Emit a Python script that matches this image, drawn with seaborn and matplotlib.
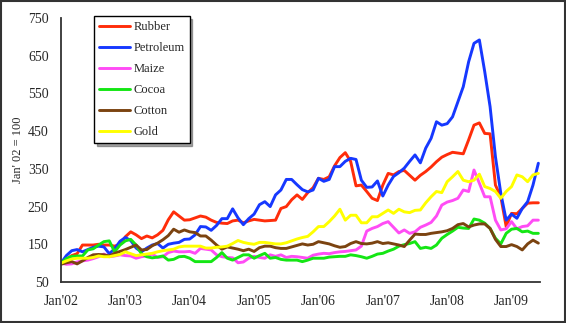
import numpy as np
import pandas as pd
import matplotlib
matplotlib.use("Agg")
import matplotlib.pyplot as plt
from matplotlib.patches import Rectangle
import seaborn as sns

# Monthly commodity price indices, Jan 2002 - Jun 2009 (Jan 2002 = 100)
rubber = [100, 110, 120, 125, 148, 148, 148, 150, 148, 148, 145, 150,
          170, 183, 175, 165, 172, 167, 175, 187, 215, 236, 225, 214,
          215, 220, 225, 222, 214, 208, 206, 205, 212, 214, 207, 212,
          216, 214, 212, 213, 214, 245, 250, 268, 281, 269, 287, 300,
          325, 322, 329, 358, 380, 393, 370, 305, 307, 290, 272, 266,
          307, 338, 334, 343, 346, 333, 320, 333, 343, 355, 369, 381,
          388, 394, 392, 390, 427, 466, 472, 444, 443, 307, 276, 197,
          232, 231, 245, 259, 260, 260]
petroleum = [100, 120, 133, 136, 130, 136, 142, 145, 143, 125, 138, 158,
             168, 160, 140, 130, 140, 148, 152, 140, 150, 153, 155, 163,
             164, 175, 197, 196, 187, 200, 218, 218, 244, 220, 202, 218,
             230, 255, 263, 250, 281, 294, 322, 322, 308, 295, 289, 294,
             325, 317, 322, 356, 356, 370, 378, 375, 320, 301, 302, 318,
             278, 307, 330, 340, 352, 370, 387, 366, 405, 431, 475, 466,
             470, 488, 528, 568, 634, 683, 692, 608, 515, 382, 285, 214,
             230, 219, 245, 263, 307, 365]
maize = [100, 97, 98, 103, 106, 108, 112, 117, 124, 117, 119, 122,
         120, 119, 113, 117, 119, 124, 115, 117, 128, 132, 130, 130,
         131, 126, 139, 137, 135, 122, 117, 115, 114, 101, 103, 113,
         118, 115, 113, 122, 118, 122, 115, 118, 117, 115, 113, 121,
         124, 126, 125, 128, 130, 131, 133, 135, 145, 185, 192, 197,
         205, 210, 195, 180, 188, 179, 183, 195, 201, 208, 225, 254,
         262, 266, 272, 294, 290, 347, 312, 276, 276, 214, 188, 191,
         210, 191, 197, 199, 214, 214]
cocoa = [100, 112, 118, 119, 119, 135, 138, 148, 157, 159, 130, 148,
         159, 163, 148, 125, 117, 114, 116, 119, 108, 110, 117, 118,
         113, 104, 104, 104, 104, 115, 128, 113, 108, 115, 122, 122,
         113, 120, 126, 113, 115, 110, 108, 108, 108, 104, 108, 113,
         113, 113, 116, 117, 118, 118, 122, 120, 117, 113, 118, 124,
         126, 132, 137, 145, 149, 152, 157, 139, 142, 139, 148, 166,
         176, 185, 195, 193, 192, 217, 214, 206, 192, 166, 151, 179,
         190, 192, 183, 185, 179, 179]
cotton = [97, 101, 104, 98, 106, 115, 122, 123, 122, 119, 126, 131,
          136, 142, 148, 135, 136, 146, 153, 162, 173, 190, 182, 188,
          183, 181, 172, 172, 161, 148, 137, 143, 140, 137, 133, 137,
          131, 141, 145, 145, 141, 139, 139, 143, 147, 151, 148, 150,
          157, 154, 151, 146, 142, 144, 152, 157, 152, 151, 153, 157,
          152, 154, 151, 148, 144, 161, 177, 176, 176, 179, 181, 183,
          186, 192, 202, 205, 196, 201, 204, 204, 192, 163, 144, 144,
          149, 144, 135, 151, 161, 153]
gold = [100, 106, 111, 113, 113, 113, 115, 119, 117, 117, 120, 123,
        130, 125, 120, 122, 124, 126, 130, 133, 135, 137, 143, 145,
        145, 145, 145, 140, 140, 142, 143, 145, 152, 160, 155, 152,
        150, 155, 155, 153, 151, 151, 154, 159, 164, 168, 171, 183,
        197, 197, 210, 225, 243, 214, 227, 227, 207, 207, 223, 223,
        232, 241, 232, 243, 236, 234, 240, 241, 260, 276, 290, 287,
        316, 329, 343, 320, 316, 320, 336, 303, 298, 290, 272, 290,
        303, 334, 329, 316, 334, 338]

series_names = ["Rubber", "Petroleum", "Maize", "Cocoa", "Cotton", "Gold"]
series_values = [rubber, petroleum, maize, cocoa, cotton, gold]
series_colors = ["#ff2d0a", "#1638ff", "#ff4cf5", "#14e614", "#7b4310", "#ffff00"]
tick_labels = ["Jan'02", "Jan'03", "Jan'04", "Jan'05", "Jan'06", "Jan'07", "Jan'08", "Jan'09"]

frames = []
for name, vals in zip(series_names, series_values):
    frames.append(pd.DataFrame({"month": np.arange(len(vals)), "index": vals, "series": name}))
df = pd.concat(frames, ignore_index=True)

sns.set_style("white")
plt.rcParams["font.family"] = ["Liberation Serif", "DejaVu Serif"]

fig = plt.figure(figsize=(5.66, 3.23), dpi=100)
ax = fig.add_axes([0.1078, 0.127, 0.954 - 0.1078, 0.944 - 0.127])

sns.lineplot(data=df, x="month", y="index", hue="series", hue_order=series_names,
             palette=dict(zip(series_names, series_colors)), linewidth=2.1,
             ax=ax, legend=True, sort=True)

ax.set_xlim(0, 89.3)
ax.set_ylim(50, 750)
ax.set_yticks(np.arange(50, 751, 100))
ax.set_xticks(np.arange(0, 85, 12))
ax.set_xticklabels(tick_labels)
ax.set_xlabel("")
ax.set_ylabel("Jan' 02 = 100", fontsize=9)
ax.yaxis.set_label_coords(-0.078, 0.5)

for side in ["top", "right"]:
    ax.spines[side].set_visible(False)
for side in ["left", "bottom"]:
    ax.spines[side].set_color("#333333")
    ax.spines[side].set_linewidth(1.3)
ax.tick_params(axis="x", direction="inout", length=7, width=1.1, color="#333333",
               labelsize=10, pad=6)
ax.tick_params(axis="y", direction="inout", length=6, width=1.1, color="#333333",
               labelsize=10, pad=6)

handles, labels = ax.get_legend_handles_labels()
leg = ax.legend(handles, labels, loc="upper left", bbox_to_anchor=(0.069, 1.008),
                borderaxespad=0, frameon=True, fancybox=False, shadow=True,
                fontsize=9, handlelength=2.5, handletextpad=0.25,
                labelspacing=0.72, borderpad=0.4)
leg.get_frame().set_edgecolor("black")
leg.get_frame().set_linewidth(1.0)
for line in leg.get_lines():
    line.set_linewidth(2.1)

fig.patches.append(Rectangle((0.002, 0.003), 0.996, 0.994, transform=fig.transFigure,
                             fill=False, edgecolor="#333333", linewidth=1.5))

fig.savefig("out.png", dpi=100)
